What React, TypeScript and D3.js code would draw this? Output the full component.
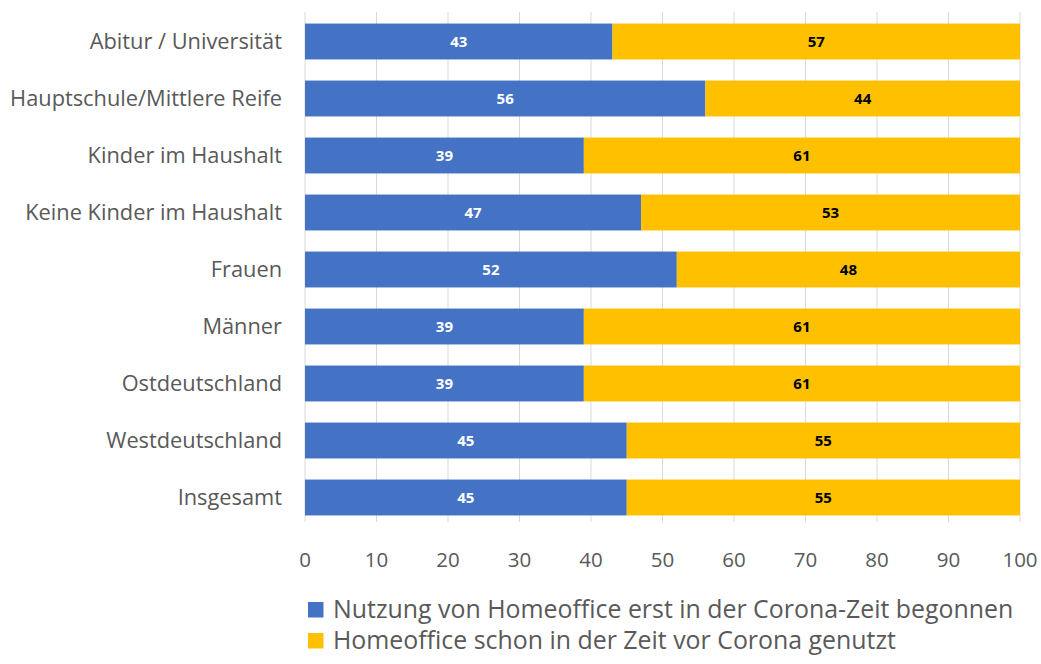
import React from "react";
import * as d3 from "d3";

const categories = [
  "Abitur / Universität",
  "Hauptschule/Mittlere Reife",
  "Kinder im Haushalt",
  "Keine Kinder im Haushalt",
  "Frauen",
  "Männer",
  "Ostdeutschland",
  "Westdeutschland",
  "Insgesamt",
];
const seriesNew = [43, 56, 39, 47, 52, 39, 39, 45, 45];
const seriesBefore = [57, 44, 61, 53, 48, 61, 61, 55, 55];
const xTicks = [0, 10, 20, 30, 40, 50, 60, 70, 80, 90, 100];
const legendLabels = [
  "Nutzung von Homeoffice erst in der Corona-Zeit begonnen",
  "Homeoffice schon in der Zeit vor Corona genutzt",
];
const colors = ["#4472C4", "#FFC000"];

const W = 1041;
const H = 664;
const FONT = "'Open Sans', 'Noto Sans', sans-serif";

export default function App() {
  const x = d3.scaleLinear().domain([0, 100]).range([305, 1020]);
  const y = d3.scaleBand<string>().domain(categories).range([13, 526]).paddingInner(0.37).paddingOuter(0.185);
  const bh = y.bandwidth();

  return (
    <svg width={W} height={H} style={{ position: "absolute", left: 0, top: 0, background: "#fff" }} fontFamily={FONT}>
      <rect x={0} y={0} width={W} height={H} fill="#fff" />
      {xTicks.map((t) => (
        <line key={"g" + t} x1={x(t)} x2={x(t)} y1={12} y2={522} stroke="#D9D9D9" strokeWidth={1} />
      ))}
      {categories.map((c, i) => {
        const y0 = y(c)!;
        const a = seriesNew[i];
        const b = seriesBefore[i];
        return (
          <g key={c}>
            <rect x={x(0)} y={y0} width={x(a) - x(0)} height={bh} fill={colors[0]} />
            <rect x={x(a)} y={y0} width={x(a + b) - x(a)} height={bh} fill={colors[1]} />
            <text x={(x(0) + x(a)) / 2} y={y0 + bh / 2} dy="0.36em" textAnchor="middle" fill="#fff" fontWeight="bold" fontSize={15}>
              {a}
            </text>
            <text x={(x(a) + x(a + b)) / 2} y={y0 + bh / 2} dy="0.36em" textAnchor="middle" fill="#000" fontWeight="bold" fontSize={15}>
              {b}
            </text>
            <text x={282} y={y0 + bh / 2} dy="0.36em" textAnchor="end" fill="#595959" fontSize={21.8}>
              {c}
            </text>
          </g>
        );
      })}
      {xTicks.map((t) => (
        <text key={"t" + t} x={x(t)} y={567} textAnchor="middle" fill="#595959" fontSize={20.5}>
          {t}
        </text>
      ))}
      {legendLabels.map((l, i) => (
        <g key={l}>
          <rect x={308} y={602 + i * 31} width={15.5} height={15.5} fill={colors[i]} />
          <text x={333} y={618 + i * 31} fill="#595959" fontSize={24.9}>
            {l}
          </text>
        </g>
      ))}
    </svg>
  );
}
